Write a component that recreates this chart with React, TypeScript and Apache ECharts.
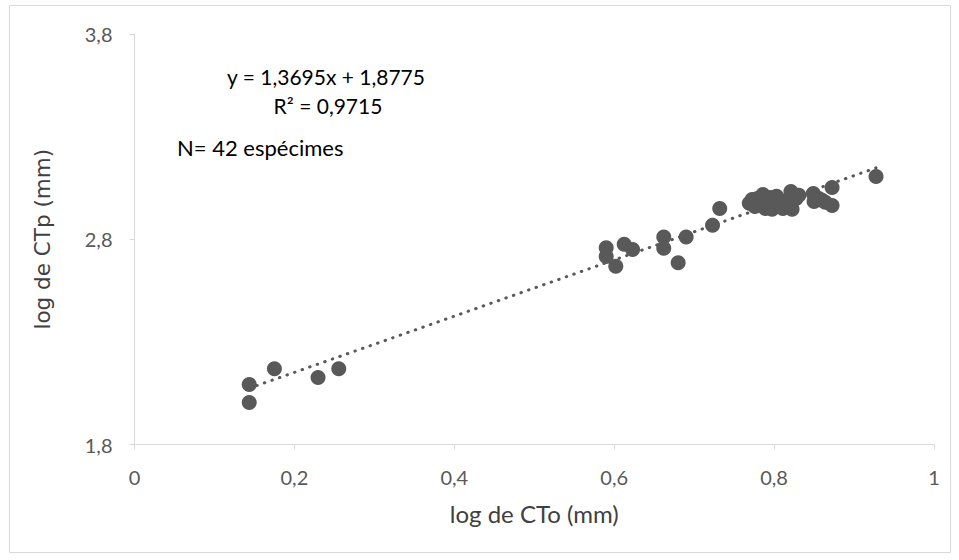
import React, { useEffect, useRef } from "react";
import * as echarts from "echarts";

const logCTo: number[] = [
  0.1435, 0.1435, 0.175, 0.2296, 0.2555,
  0.59, 0.59, 0.602, 0.6125, 0.623, 0.662, 0.662, 0.68, 0.69, 0.723, 0.732,
  0.769, 0.7725, 0.779, 0.786, 0.789, 0.795, 0.7975, 0.801, 0.806, 0.811,
  0.816, 0.821, 0.8225, 0.8275, 0.831, 0.849, 0.85, 0.856, 0.864, 0.8725,
  0.8725, 0.9275, 0.776, 0.803, 0.818, 0.86,
];
const logCTp: number[] = [
  2.092, 2.005, 2.169, 2.126, 2.169,
  2.759, 2.716, 2.669, 2.776, 2.75, 2.811, 2.756, 2.685, 2.811, 2.868, 2.95,
  2.975, 2.994, 2.999, 3.018, 2.95, 3.004, 2.946, 2.97, 2.994, 2.95,
  2.984, 3.033, 2.946, 2.999, 3.014, 3.023, 2.984, 2.999, 2.98, 2.965,
  3.052, 3.106, 2.96, 3.01, 2.99, 2.99,
];
const slope = 1.3695;
const intercept = 1.8775;
const xTicks = { min: 0, max: 1, interval: 0.2 };
const yTicks = { min: 1.8, max: 3.8, interval: 1 };
const equationText = "y = 1,3695x + 1,8775";
const r2Text = "R² = 0,9715";
const nText = "N= 42 espécimes";

const fmt = (v: number) => {
  if (Math.abs(v - Math.round(v)) < 1e-9) return String(Math.round(v));
  return v.toFixed(1).replace(".", ",");
};

export default function App() {
  const ref = useRef<HTMLDivElement>(null);
  useEffect(() => {
    if (!ref.current) return;
    const chart = echarts.init(ref.current, null, { renderer: "svg" });
    const points = logCTo.map((x, i) => [x, logCTp[i]]);
    const xmin = Math.min(...logCTo);
    const xmax = Math.max(...logCTo);
    const trend = [
      [xmin, slope * xmin + intercept],
      [xmax, slope * xmax + intercept],
    ];
    const font = "Lato, 'Open Sans', sans-serif";
    chart.setOption({
      animation: false,
      backgroundColor: "#ffffff",
      grid: { left: 134.5, right: 25, top: 34, bottom: 115.5 },
      xAxis: {
        type: "value",
        min: xTicks.min,
        max: xTicks.max,
        interval: xTicks.interval,
        name: "log de CTo (mm)",
        nameLocation: "middle",
        nameGap: 57,
        nameTextStyle: { fontSize: 24, color: "#404040", fontFamily: font },
        axisLine: { show: true, lineStyle: { color: "#d9d9d9", width: 1 } },
        axisTick: { show: true, length: 5, lineStyle: { color: "#d9d9d9" } },
        splitLine: { show: false },
        axisLabel: {
          formatter: fmt,
          fontSize: 20,
          color: "#595959",
          fontFamily: font,
          margin: 22,
        },
      },
      yAxis: {
        type: "value",
        min: yTicks.min,
        max: yTicks.max,
        interval: yTicks.interval,
        name: "log de CTp (mm)",
        nameLocation: "middle",
        nameGap: 81,
        nameTextStyle: { fontSize: 21.5, color: "#404040", fontFamily: "'DejaVu Sans'" },
        axisLine: { show: true, lineStyle: { color: "#d9d9d9", width: 1 } },
        axisTick: { show: true, length: 5, lineStyle: { color: "#d9d9d9" } },
        splitLine: { show: false },
        axisLabel: {
          formatter: fmt,
          fontSize: 20,
          color: "#595959",
          fontFamily: font,
          margin: 22,
        },
      },
      graphic: [
        {
          type: "rect",
          shape: { x: 9.5, y: 5.5, width: 941, height: 547 },
          style: { fill: "none", stroke: "#d9d9d9", lineWidth: 1 },
          silent: true,
        },
        {
          type: "text",
          x: 326,
          y: 76,
          style: {
            text: equationText,
            fontSize: 21,
            fill: "#000000",
            fontFamily: font,
            align: "center",
            verticalAlign: "middle",
          },
        },
        {
          type: "text",
          x: 328,
          y: 105,
          style: {
            text: r2Text,
            fontSize: 21,
            fill: "#000000",
            fontFamily: font,
            align: "center",
            verticalAlign: "middle",
          },
        },
        {
          type: "text",
          x: 177,
          y: 147,
          style: {
            text: nText,
            fontSize: 22,
            fill: "#000000",
            fontFamily: font,
            align: "left",
            verticalAlign: "middle",
          },
        },
      ],
      series: [
        {
          type: "scatter",
          data: points,
          symbol: "circle",
          symbolSize: 15,
          itemStyle: { color: "#595959", opacity: 1 },
          z: 2,
        },
        {
          type: "line",
          data: trend,
          showSymbol: false,
          symbol: "none",
          lineStyle: {
            color: "#595959",
            width: 3,
            type: [0.5, 7.5],
            cap: "round",
          },
          z: 3,
        },
      ],
    });
    return () => chart.dispose();
  }, []);
  return (
    <div
      ref={ref}
      style={{ position: "fixed", left: 0, top: 0, width: 959, height: 560 }}
    />
  );
}
